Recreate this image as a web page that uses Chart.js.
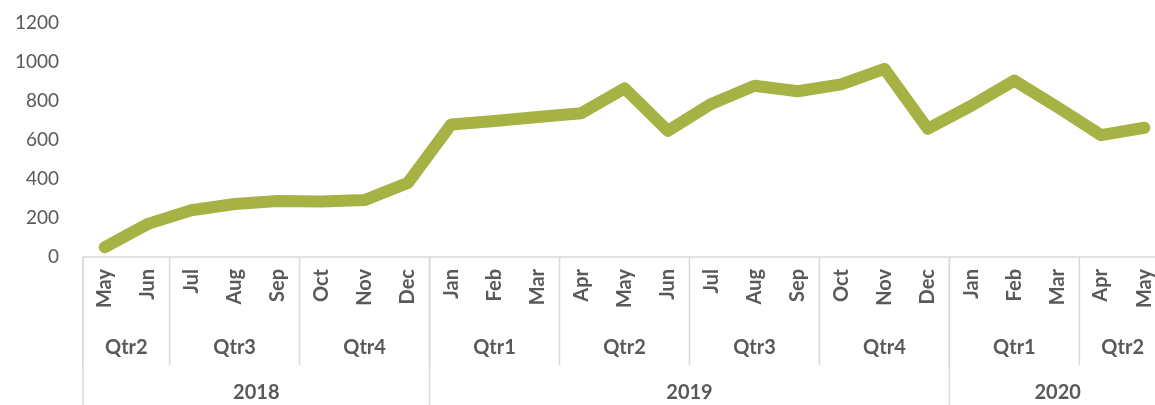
<!DOCTYPE html>
<html lang="en">
<head>
    <meta charset="UTF-8">
    <title>Monthly line</title>
    <script src="https://cdn.jsdelivr.net/npm/chart.js@4.4.0/dist/chart.umd.min.js"></script>
    <style>
        html, body { margin: 0; padding: 0; overflow: hidden; background: #fff; }
        #wrap { position: relative; width: 1166px; height: 405px; }
    </style>
</head>
<body>
    <div id="wrap"><canvas id="lineChart"></canvas></div>

    <script>
        // data
        const months = ['May','Jun','Jul','Aug','Sep','Oct','Nov','Dec',
                        'Jan','Feb','Mar','Apr','May','Jun','Jul','Aug','Sep','Oct','Nov','Dec',
                        'Jan','Feb','Mar','Apr','May'];
        const quarters = ['Qtr2','Qtr2','Qtr3','Qtr3','Qtr3','Qtr4','Qtr4','Qtr4',
                          'Qtr1','Qtr1','Qtr1','Qtr2','Qtr2','Qtr2','Qtr3','Qtr3','Qtr3','Qtr4','Qtr4','Qtr4',
                          'Qtr1','Qtr1','Qtr1','Qtr2','Qtr2'];
        const years = ['2018','2018','2018','2018','2018','2018','2018','2018',
                       '2019','2019','2019','2019','2019','2019','2019','2019','2019','2019','2019','2019',
                       '2020','2020','2020','2020','2020'];
        const values = [50, 170, 240, 272, 287, 285, 292, 380,
                        680, 697, 718, 737, 865, 647, 785, 878, 850, 885, 965, 658,
                        775, 905, 768, 625, 663];
        const yTicks = [0, 200, 400, 600, 800, 1000, 1200];

        const textColor = '#595959';
        const lineColor = '#d9d9d9';
        const fontFamily = 'Lato, "Open Sans", sans-serif';

        // group consecutive equal labels -> [{label, start, end}]
        function groups(arr) {
            let out = [];
            for (let i = 0; i < arr.length; i++) {
                if (i > 0 && arr[i] === arr[i - 1]) {
                    out[out.length - 1].end = i;
                } else {
                    out.push({label: arr[i], start: i, end: i});
                }
            }
            return out;
        }

        // draws the quarter / year rows and the separator lines under the month labels
        const multiLevelAxis = {
            id: 'multiLevelAxis',
            afterDraw(chart) {
                const ctx = chart.ctx;
                const x = chart.scales.x;
                const top = x.top;
                const bottom = chart.height;
                const step = x.getPixelForValue(1) - x.getPixelForValue(0);
                const edge = i => x.getPixelForValue(i) - step / 2;
                const qRowY = 348, qRowBottom = 365, yRowY = 393;

                ctx.save();
                ctx.strokeStyle = lineColor;
                ctx.lineWidth = 1.5;

                // axis line
                ctx.beginPath();
                ctx.moveTo(chart.chartArea.left, top);
                ctx.lineTo(chart.width, top);
                ctx.stroke();

                const qs = groups(quarters.map((q, i) => years[i] + q));
                const ys = groups(years);

                qs.forEach(g => {
                    let xs = edge(g.start);
                    ctx.beginPath();
                    ctx.moveTo(xs, top);
                    ctx.lineTo(xs, qRowBottom);
                    ctx.stroke();
                });
                ys.forEach(g => {
                    let xs = edge(g.start);
                    ctx.beginPath();
                    ctx.moveTo(xs, top);
                    ctx.lineTo(xs, bottom);
                    ctx.stroke();
                });

                ctx.fillStyle = textColor;
                ctx.font = 'bold 20px ' + fontFamily;
                ctx.textAlign = 'center';
                ctx.textBaseline = 'middle';
                qs.forEach(g => {
                    let cx = (edge(g.start) + edge(g.end + 1)) / 2;
                    ctx.fillText(quarters[g.start], cx, qRowY);
                });
                ys.forEach(g => {
                    let cx = (edge(g.start) + edge(g.end + 1)) / 2;
                    ctx.fillText(g.label, cx, yRowY);
                });
                ctx.restore();
            }
        };

        const ctx = document.getElementById('lineChart').getContext('2d');
        const lineChart = new Chart(ctx, {
            type: 'line',
            data: {
                labels: months,
                datasets: [{
                    data: values,
                    borderColor: '#a6b244',
                    borderWidth: 12,
                    borderCapStyle: 'round',
                    borderJoinStyle: 'round',
                    pointRadius: 0,
                    fill: false,
                    tension: 0
                }]
            },
            plugins: [multiLevelAxis],
            options: {
                responsive: true,
                maintainAspectRatio: false,
                animation: false,
                layout: {
                    padding: {top: 23, left: 0, right: 0, bottom: 0}
                },
                plugins: {
                    legend: { display: false },
                    tooltip: { enabled: false }
                },
                scales: {
                    x: {
                        type: 'category',
                        offset: true,
                        grid: { display: false, drawTicks: false },
                        border: { display: false },
                        ticks: {
                            autoSkip: false,
                            minRotation: 90,
                            maxRotation: 90,
                            padding: 12,
                            color: textColor,
                            font: { family: fontFamily, size: 20, weight: 'bold' }
                        },
                        afterFit: function(scale) {
                            scale.height = 148;
                            scale.paddingLeft = 0;
                            scale.paddingRight = 0;
                        }
                    },
                    y: {
                        min: 0,
                        max: 1200,
                        afterBuildTicks: function(scale) {
                            scale.ticks = yTicks.map(v => ({value: v}));
                        },
                        grid: { display: false, drawTicks: false },
                        border: { display: false },
                        ticks: {
                            padding: 24,
                            color: textColor,
                            font: { family: fontFamily, size: 19 },
                            callback: function(v) { return String(v); }
                        },
                        afterFit: function(scale) {
                            scale.width = 83;
                            scale.paddingTop = 0;
                            scale.paddingBottom = 0;
                        }
                    }
                }
            }
        });
    </script>
</body>
</html>
